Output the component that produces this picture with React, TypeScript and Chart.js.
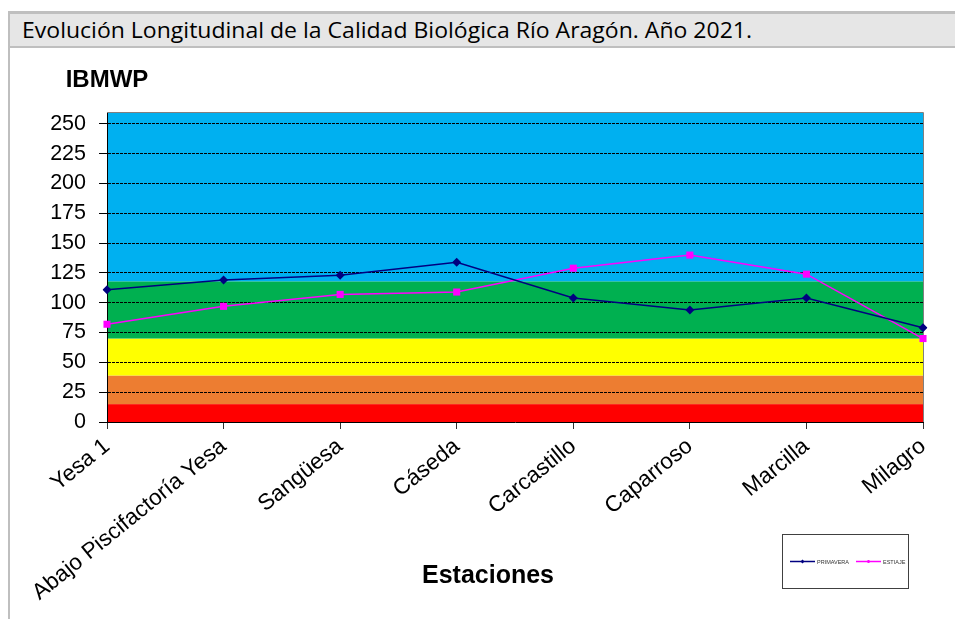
import React, { useEffect, useRef } from "react";
import { Chart, registerables } from "chart.js";

Chart.register(...registerables);

const titleText = "Evolución Longitudinal de la Calidad Biológica Río Aragón. Año 2021.";
const yAxisTitle = "IBMWP";
const xAxisTitle = "Estaciones";

const categories = [
  "Yesa 1",
  "Abajo Piscifactoría Yesa",
  "Sangüesa",
  "Cáseda",
  "Carcastillo",
  "Caparroso",
  "Marcilla",
  "Milagro",
];

const seriesNames = ["PRIMAVERA", "ESTIAJE"];
const primavera = [111, 119, 123, 134, 104, 94, 104, 79];
const estiaje = [82, 97, 107, 109, 129, 140, 124, 70];

const yTicks = [0, 25, 50, 75, 100, 125, 150, 175, 200, 225, 250];
const yMax = 260;

// quality class bands (lower/upper limits)
const bandLimits = [0, 15, 39, 70, 118, 260];
const bandColors = ["#ff0000", "#ed7d31", "#ffff00", "#00b050", "#00b0f0"];

const FONT = "'Liberation Sans', Arial, sans-serif";

const bandsPlugin = {
  id: "bands",
  beforeDraw(chart: any) {
    const { ctx, chartArea, scales } = chart;
    const y = scales.y;
    ctx.save();
    for (let i = 0; i < bandColors.length; i++) {
      const top = y.getPixelForValue(bandLimits[i + 1]);
      const bottom = y.getPixelForValue(bandLimits[i]);
      ctx.fillStyle = bandColors[i];
      ctx.fillRect(chartArea.left, top, chartArea.right - chartArea.left, bottom - top);
    }
    ctx.restore();
  },
  beforeDatasetsDraw(chart: any) {
    const { ctx, chartArea } = chart;
    ctx.save();
    ctx.strokeStyle = "#808080";
    ctx.lineWidth = 1;
    ctx.beginPath();
    ctx.moveTo(chartArea.left, chartArea.top + 0.5);
    ctx.lineTo(chartArea.right + 0.5, chartArea.top + 0.5);
    ctx.lineTo(chartArea.right + 0.5, chartArea.bottom);
    ctx.stroke();
    ctx.restore();
  },
  afterDraw(chart: any) {
    const { ctx } = chart;
    ctx.save();
    ctx.fillStyle = "#000";
    ctx.textAlign = "center";
    ctx.textBaseline = "alphabetic";
    ctx.font = `bold 24px ${FONT}`;
    ctx.fillText(yAxisTitle, 107, 87);
    ctx.font = `bold 25px ${FONT}`;
    ctx.fillText(xAxisTitle, 488, 583);

    // legend box
    const bx = 782, by = 534, bw = 126, bh = 54;
    ctx.strokeStyle = "#404040";
    ctx.lineWidth = 1;
    ctx.strokeRect(bx + 0.5, by + 0.5, bw, bh);
    const ly = by + 27;
    const items = chart.data.datasets.map((d: any) => d);
    const starts = [bx + 8, bx + 74];
    items.forEach((d: any, i: number) => {
      const x0 = starts[i];
      ctx.strokeStyle = d.borderColor;
      ctx.lineWidth = 1.5;
      ctx.beginPath();
      ctx.moveTo(x0, ly + 0.5);
      ctx.lineTo(x0 + 25, ly + 0.5);
      ctx.stroke();
      ctx.fillStyle = d.borderColor;
      if (i === 0) {
        ctx.beginPath();
        ctx.moveTo(x0 + 12.5, ly - 1.5);
        ctx.lineTo(x0 + 14.5, ly + 0.5);
        ctx.lineTo(x0 + 12.5, ly + 2.5);
        ctx.lineTo(x0 + 10.5, ly + 0.5);
        ctx.closePath();
        ctx.fill();
      } else {
        ctx.fillRect(x0 + 11.5, ly - 1, 2, 3);
      }
      ctx.fillStyle = "#333";
      ctx.textAlign = "left";
      ctx.textBaseline = "middle";
      ctx.font = `5.5px ${FONT}`;
      ctx.fillText(d.label, x0 + 27, ly + 1);
    });
    ctx.restore();
  },
};

export default function App() {
  const canvasRef = useRef<HTMLCanvasElement | null>(null);
  const titleRef = useRef<HTMLSpanElement | null>(null);

  useEffect(() => {
    if (titleRef.current) {
      const w = titleRef.current.offsetWidth;
      if (w > 0) titleRef.current.style.transform = `scaleX(${730 / w})`;
    }
    if (!canvasRef.current) return;
    const chart = new Chart(canvasRef.current, {
      type: "line",
      data: {
        labels: categories,
        datasets: [
          {
            label: seriesNames[0],
            data: primavera,
            borderColor: "#000080",
            backgroundColor: "#000080",
            borderWidth: 1.5,
            pointStyle: "rectRot",
            pointRadius: 4.5,
            pointBorderWidth: 0,
            tension: 0,
          },
          {
            label: seriesNames[1],
            data: estiaje,
            borderColor: "#ff00ff",
            backgroundColor: "#ff00ff",
            borderWidth: 1.5,
            pointStyle: "rect",
            pointRadius: 5,
            pointBorderWidth: 0,
            tension: 0,
          },
        ],
      },
      options: {
        animation: false,
        responsive: false,
        devicePixelRatio: 1,
        layout: { padding: { top: 112, right: 32, left: 0, bottom: 0 } },
        plugins: {
          legend: { display: false },
          title: { display: false },
          tooltip: { enabled: false },
        },
        scales: {
          x: {
            type: "category",
            offset: false,
            afterFit(scale: any) {
              scale.height = 197;
            },
            grid: {
              drawOnChartArea: false,
              drawTicks: true,
              tickLength: 7,
              color: "#000",
              tickColor: "#333",
            },
            border: { color: "#000", width: 1 },
            ticks: {
              autoSkip: false,
              minRotation: 39,
              maxRotation: 39,
              padding: 4,
              color: "#000",
              font: { family: FONT, size: 22.5 },
            },
          },
          y: {
            min: 0,
            max: yMax,
            afterFit(scale: any) {
              scale.width = 107;
            },
            afterBuildTicks(scale: any) {
              scale.ticks = yTicks.map((v) => ({ value: v }));
            },
            grid: {
              color: "#000",
              lineWidth: 1,
              tickLength: 8,
              tickColor: "#000",
              tickBorderDash: [],
            },
            border: { color: "#000", width: 1, dash: [3, 1] },
            ticks: {
              padding: 13,
              color: "#000",
              font: { family: FONT, size: 21.5 },
            },
          },
        },
      },
      plugins: [bandsPlugin],
    } as any);
    return () => chart.destroy();
  }, []);

  return (
    <div
      style={{
        position: "absolute",
        left: 0,
        top: 0,
        width: 955,
        height: 619,
        background: "#fff",
        overflow: "hidden",
      }}
    >
      <div style={{ position: "absolute", left: 8, top: 11, width: 947, height: 3, background: "#bfbfbf" }} />
      <div style={{ position: "absolute", left: 8, top: 14, width: 947, height: 32, background: "#e6e6e6" }} />
      <div style={{ position: "absolute", left: 8, top: 46, width: 947, height: 2, background: "#bfbfbf" }} />
      <div style={{ position: "absolute", left: 8, top: 11, width: 2, height: 608, background: "#bfbfbf" }} />
      <span
        ref={titleRef}
        style={{
          position: "absolute",
          left: 22,
          top: 14,
          lineHeight: "32px",
          fontFamily: "'Open Sans', sans-serif",
          fontSize: 21,
          color: "#000",
          whiteSpace: "nowrap",
          transformOrigin: "left center",
        }}
      >
        {titleText}
      </span>
      <canvas
        ref={canvasRef}
        width={955}
        height={619}
        style={{ position: "absolute", left: 0, top: 0, width: 955, height: 619 }}
      />
    </div>
  );
}
